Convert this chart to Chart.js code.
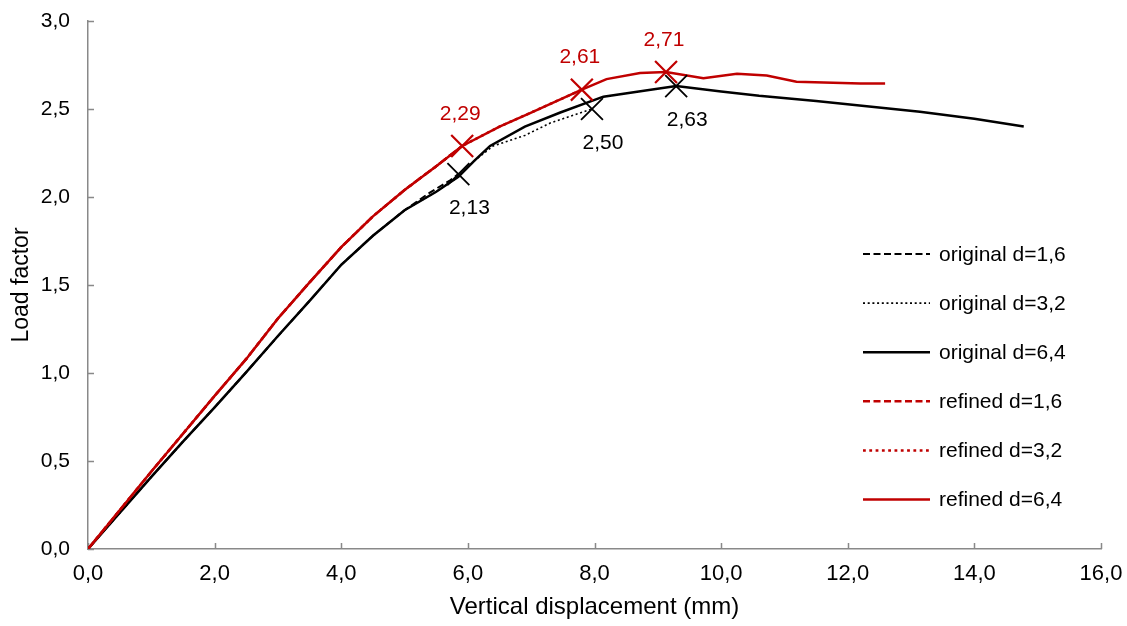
<!DOCTYPE html>
<html>
<head>
<meta charset="utf-8">
<title>Load factor vs vertical displacement</title>
<script src="https://cdn.jsdelivr.net/npm/chart.js@4.4.1/dist/chart.umd.min.js"></script>
<style>
  html, body { margin: 0; padding: 0; background: #ffffff; }
  #wrap { width: 1127px; height: 626px; }
</style>
</head>
<body>
<div id="wrap"><canvas id="chart" width="1127" height="626"></canvas></div>
<script>
// ---- tick values ----
const xTickValues = [0, 2, 4, 6, 8, 10, 12, 14, 16];
const yTickValues = [0, 0.5, 1.0, 1.5, 2.0, 2.5, 3.0];

// ---- series: original mesh ----
const origD16X = [0, 0.5, 1.0, 1.5, 2.0, 2.5, 3.0, 3.5, 4.0, 4.5, 5.0, 5.4, 5.72, 5.85];
const origD16Y = [0, 0.205, 0.41, 0.61, 0.805, 1.005, 1.21, 1.41, 1.615, 1.78, 1.925, 2.025, 2.095, 2.13];

const origD32X = [0, 0.5, 1.0, 1.5, 2.0, 2.5, 3.0, 3.5, 4.0, 4.5, 5.0, 5.5, 5.85, 6.1, 6.4, 6.9, 7.3, 7.96];
const origD32Y = [0, 0.205, 0.41, 0.61, 0.805, 1.005, 1.21, 1.41, 1.615, 1.78, 1.925, 2.03, 2.115, 2.205, 2.29, 2.35, 2.42, 2.50];

const origD64X = [0, 0.5, 1.0, 1.5, 2.0, 2.5, 3.0, 3.5, 4.0, 4.5, 5.0, 5.5, 5.85, 6.1, 6.35, 6.9, 7.46, 8.14, 8.7, 9.29, 10.0, 10.6, 11.5, 12.3, 13.14, 14.0, 14.78];
const origD64Y = [0, 0.205, 0.41, 0.61, 0.805, 1.005, 1.21, 1.41, 1.615, 1.78, 1.925, 2.03, 2.115, 2.205, 2.29, 2.40, 2.48, 2.57, 2.60, 2.63, 2.60, 2.575, 2.545, 2.515, 2.485, 2.445, 2.40];

// ---- series: refined mesh ----
const refD16X = [0, 0.5, 1.0, 1.5, 2.0, 2.5, 3.0, 3.5, 4.0, 4.5, 5.0, 5.5, 5.91];
const refD16Y = [0, 0.22, 0.44, 0.655, 0.87, 1.08, 1.31, 1.515, 1.715, 1.89, 2.04, 2.175, 2.29];

const refD32X = [0, 0.5, 1.0, 1.5, 2.0, 2.5, 3.0, 3.5, 4.0, 4.5, 5.0, 5.5, 5.91, 6.5, 7.0, 7.8];
const refD32Y = [0, 0.22, 0.44, 0.655, 0.87, 1.08, 1.31, 1.515, 1.715, 1.89, 2.04, 2.175, 2.29, 2.40, 2.48, 2.61];

const refD64X = [0, 0.5, 1.0, 1.5, 2.0, 2.5, 3.0, 3.5, 4.0, 4.5, 5.0, 5.5, 5.91, 6.5, 7.0, 7.8, 8.19, 8.72, 9.13, 9.72, 10.25, 10.72, 11.19, 12.2, 12.59];
const refD64Y = [0, 0.22, 0.44, 0.655, 0.87, 1.08, 1.31, 1.515, 1.715, 1.89, 2.04, 2.175, 2.29, 2.40, 2.48, 2.61, 2.67, 2.705, 2.71, 2.675, 2.70, 2.69, 2.655, 2.645, 2.645];

// ---- marked points (end of run / peak) ----
const origMarkX = [5.85, 7.96, 9.29];
const origMarkY = [2.13, 2.50, 2.63];
const refMarkX = [5.91, 7.80, 9.13];
const refMarkY = [2.29, 2.61, 2.71];

const BLACK = '#000000';
const RED = '#C00000';
const AXIS = '#898989';
const FONT = "'Liberation Sans', Arial, sans-serif";

const pts = (xs, ys) => xs.map((x, i) => ({ x: x, y: ys[i] }));
const comma = (v, d) => v.toFixed(d).replace('.', ',');

function curve(label, xs, ys, color, dash, width, order) {
  return {
    type: 'line', label: label, data: pts(xs, ys),
    borderColor: color, backgroundColor: color, borderWidth: width,
    borderDash: dash, pointRadius: 0, fill: false, tension: 0,
    order: order, isCurve: true
  };
}

function marks(xs, ys, color, width, labelDx, labelDy) {
  return {
    type: 'scatter', label: '', data: pts(xs, ys),
    borderColor: color, backgroundColor: color, borderWidth: width,
    pointStyle: 'crossRot', pointRadius: 15.5, pointHoverRadius: 15.5,
    order: 0, isMark: true, labelDx: labelDx, labelDy: labelDy
  };
}

const datasets = [
  curve('original d=1,6', origD16X, origD16Y, BLACK, [7, 3.5], 2, 5),
  curve('original d=3,2', origD32X, origD32Y, BLACK, [2, 2.7], 1.6, 6),
  curve('original d=6,4', origD64X, origD64Y, BLACK, [], 2.5, 4),
  curve('refined d=1,6', refD16X, refD16Y, RED, [7, 3.5], 2.5, 2),
  curve('refined d=3,2', refD32X, refD32Y, RED, [2.8, 3.5], 2.5, 3),
  curve('refined d=6,4', refD64X, refD64Y, RED, [], 2.5, 1),
  marks(origMarkX, origMarkY, BLACK, 1.8, 11, 34),
  marks(refMarkX, refMarkY, RED, 2.2, -2, -32)
];

// short tick marks pointing into the plot area
const inwardTicks = {
  id: 'inwardTicks',
  beforeDatasetsDraw(chart) {
    const { ctx, chartArea, scales } = chart;
    ctx.save();
    ctx.strokeStyle = AXIS;
    ctx.lineWidth = 1.5;
    ctx.beginPath();
    xTickValues.forEach(v => {
      const px = Math.round(scales.x.getPixelForValue(v)) + 0.5;
      ctx.moveTo(px, chartArea.bottom);
      ctx.lineTo(px, chartArea.bottom - 6);
    });
    yTickValues.forEach(v => {
      const py = Math.round(scales.y.getPixelForValue(v)) + 0.5;
      ctx.moveTo(chartArea.left, py);
      ctx.lineTo(chartArea.left + 6, py);
    });
    ctx.stroke();
    ctx.restore();
  }
};

// value labels next to the marked points
const markLabels = {
  id: 'markLabels',
  afterDatasetsDraw(chart) {
    const { ctx, scales } = chart;
    ctx.save();
    ctx.font = '21px ' + FONT;
    ctx.textAlign = 'center';
    ctx.textBaseline = 'middle';
    chart.data.datasets.forEach(ds => {
      if (!ds.isMark) return;
      ctx.fillStyle = ds.borderColor;
      ds.data.forEach(p => {
        const px = scales.x.getPixelForValue(p.x) + ds.labelDx;
        const py = scales.y.getPixelForValue(p.y) + ds.labelDy;
        ctx.fillText(comma(p.y, 2), px, py);
      });
    });
    ctx.restore();
  }
};

// line-sample legend inside the plot area
const lineLegend = {
  id: 'lineLegend',
  afterDraw(chart) {
    const { ctx } = chart;
    const x0 = 863, x1 = 930, tx = 939, y0 = 254, step = 49.1;
    ctx.save();
    ctx.font = '21px ' + FONT;
    ctx.textAlign = 'left';
    ctx.textBaseline = 'middle';
    let row = 0;
    chart.data.datasets.forEach(ds => {
      if (!ds.isCurve) return;
      const y = y0 + row * step;
      ctx.strokeStyle = ds.borderColor;
      ctx.lineWidth = ds.borderWidth;
      ctx.setLineDash(ds.borderDash);
      ctx.beginPath();
      ctx.moveTo(x0, y);
      ctx.lineTo(x1, y);
      ctx.stroke();
      ctx.setLineDash([]);
      ctx.fillStyle = '#000000';
      ctx.fillText(ds.label, tx, y + 1);
      row++;
    });
    ctx.restore();
  }
};

new Chart(document.getElementById('chart'), {
  data: { datasets: datasets },
  options: {
    responsive: false,
    animation: false,
    devicePixelRatio: 1,
    layout: { padding: { top: 21, right: 26, left: 0, bottom: 0 } },
    plugins: { legend: { display: false }, tooltip: { enabled: false } },
    scales: {
      x: {
        type: 'linear', min: 0, max: 16,
        afterBuildTicks: s => { s.ticks = xTickValues.map(v => ({ value: v })); },
        afterFit: s => { s.height = 77; s.paddingLeft = 0; s.paddingRight = 0; },
        grid: { display: false, drawTicks: false },
        border: { display: true, color: AXIS, width: 1.5 },
        ticks: {
          padding: 12, color: '#000000', maxRotation: 0,
          font: { family: FONT, size: 22 },
          callback: v => comma(v, 1)
        },
        title: {
          display: true, text: 'Vertical displacement (mm)', color: '#000000',
          font: { family: FONT, size: 24 }, padding: { top: 0, bottom: 4 }
        }
      },
      y: {
        type: 'linear', min: 0, max: 3,
        afterBuildTicks: s => { s.ticks = yTickValues.map(v => ({ value: v })); },
        afterFit: s => { s.width = 88; s.paddingTop = 0; s.paddingBottom = 0; },
        grid: { display: false, drawTicks: false },
        border: { display: true, color: AXIS, width: 1.5 },
        ticks: {
          padding: 18, color: '#000000',
          font: { family: FONT, size: 21 },
          callback: v => comma(v, 1)
        },
        title: {
          display: true, text: 'Load factor', color: '#000000',
          font: { family: FONT, size: 23 }, padding: { top: 8, bottom: 0 }
        }
      }
    }
  },
  plugins: [inwardTicks, markLabels, lineLegend]
});
</script>
</body>
</html>
